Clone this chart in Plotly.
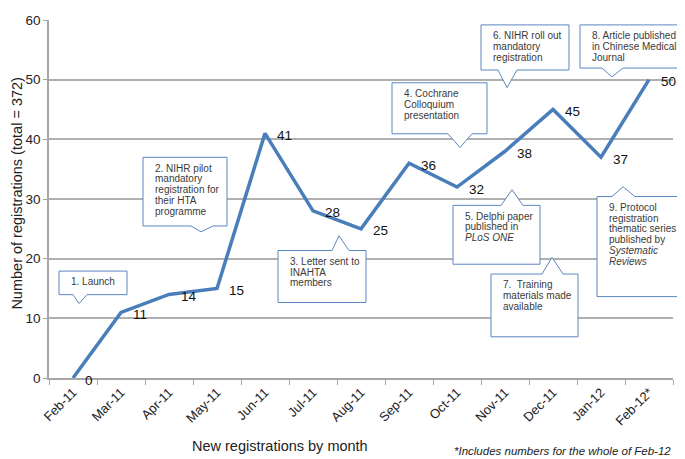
import plotly.graph_objects as go

months = ["Feb-11", "Mar-11", "Apr-11", "May-11", "Jun-11", "Jul-11", "Aug-11",
          "Sep-11", "Oct-11", "Nov-11", "Dec-11", "Jan-12", "Feb-12*"]
registrations = [0, 11, 14, 15, 41, 28, 25, 36, 32, 38, 45, 37, 50]

y_ticks = [0, 10, 20, 30, 40, 50, 60]

callout_texts = [
    ["1. Launch"],
    ["2. NIHR pilot", "mandatory", "registration for", "their HTA", "programme"],
    ["3. Letter sent to", "INAHTA", "members"],
    ["4. Cochrane", "Colloquium", "presentation"],
    ["5. Delphi paper", "published in", "<i>PLoS ONE</i>"],
    ["6. NIHR roll out", "mandatory", "registration"],
    ["7.\u00a0 Training", "materials made", "available"],
    ["8. Article published", "in Chinese Medical", "Journal"],
    ["9. Protocol", "registration", "thematic series", "published by",
     "<i>Systematic</i>", "<i>Reviews</i>"],
]

# The page body has an 8px margin, so the figure starts at (8, 8) in the window.
OFF = 8
W, H = 685, 459
PLOT_L, PLOT_R, PLOT_T, PLOT_B = 49, 673, 13, 378   # window pixels of plot area
L = PLOT_L - OFF
R = W - (PLOT_R - OFF)
T = PLOT_T - OFF
B = H - (PLOT_B - OFF)
PW, PH = PLOT_R - PLOT_L, PLOT_B - PLOT_T

def px(x):
    return (x - PLOT_L) / PW

def py(y):
    return (PLOT_B - y) / PH

# callout boxes in window pixels: (left, top, right, bottom, side, base0, tip_x, base1, tip_y)
callout_geom = [
    (59, 269, 127, 293, "bottom", 73, 79, 87, 302),
    (143, 153, 227, 223, "bottom", 191, 201, 213, 229),
    (278, 248, 366, 301, "top", 332, 339, 349, 233),
    (392, 77, 487, 129, "bottom", 448, 460, 472, 143),
    (453, 202, 540, 262, "top", 501, 512, 523, 186),
    (481, 18, 569, 64, "bottom", 498, 507, 517, 82),
    (491, 272, 578, 336, "top", 542, 552, 563, 255),
    (580, 18, 682, 62, "bottom", 602, 612, 623, 71),
    (597, 193, 684, 295, "top", 612, 623, 635, 183),
]

fig = go.Figure()
fig.add_trace(go.Scatter(
    x=months, y=registrations, mode="lines",
    line=dict(color="#4A7EBB", width=3.5),
    hoverinfo="x+y", showlegend=False,
))

annotations = []
for m, v in zip(months, registrations):
    annotations.append(dict(
        x=m, y=v, xref="x", yref="y", text=str(v), showarrow=False,
        xanchor="left", yanchor="middle", xshift=10, yshift=-2,
        font=dict(size=13.5, color="#111111"),
    ))

shapes = []
for (l, t, r, b, side, b0, tx, b1, ty), lines in zip(callout_geom, callout_texts):
    if side == "bottom":
        pts = [(l, t), (r, t), (r, b), (b1, b), (tx, ty), (b0, b), (l, b)]
    else:
        pts = [(l, t), (b0, t), (tx, ty), (b1, t), (r, t), (r, b), (l, b)]
    path = "M " + " L ".join(f"{px(a):.5f},{py(c):.5f}" for a, c in pts) + " Z"
    shapes.append(dict(type="path", xref="paper", yref="paper", path=path,
                       line=dict(color="#5B87C0", width=1), fillcolor="white",
                       layer="above"))
    for i, txt in enumerate(lines):
        annotations.append(dict(
            x=px(l + 10), y=py(t + 11 + 11 * i), xref="paper", yref="paper",
            text=txt, showarrow=False, xanchor="left", yanchor="middle",
            font=dict(size=10, color="#3a3a3a"),
        ))

annotations.append(dict(
    x=px(280), y=py(447), xref="paper", yref="paper",
    text="New registrations by month", showarrow=False,
    xanchor="center", yanchor="middle", font=dict(size=14.5, color="#222222"),
))
annotations.append(dict(
    x=px(673), y=py(452), xref="paper", yref="paper",
    text="<i>*Includes numbers for the whole of Feb-12</i>", showarrow=False,
    xanchor="right", yanchor="middle", font=dict(size=11.5, color="#222222"),
))
annotations.append(dict(
    x=px(17), y=py(190), xref="paper", yref="paper",
    text="Number of registrations (total = 372)", showarrow=False, textangle=-90,
    xanchor="center", yanchor="middle", font=dict(size=14.5, color="#222222"),
))

fig.update_layout(
    width=W, height=H,
    margin=dict(l=L, r=R, t=T, b=B, pad=0),
    paper_bgcolor="white", plot_bgcolor="white",
    font=dict(family="Liberation Sans, Arial, sans-serif", color="#222222"),
    xaxis=dict(
        type="category", range=[-0.5, 12.5], tickson="boundaries",
        showgrid=False, showline=True, linecolor="#A6A6A6", linewidth=1.5,
        ticks="outside", ticklen=5, tickcolor="#A6A6A6", tickwidth=1.2,
        tickangle=-45, tickfont=dict(size=13, color="#222222"),
    ),
    yaxis=dict(
        range=[0, 60], tickvals=y_ticks, showgrid=True, gridcolor="#B0B0B0",
        gridwidth=1.5, zeroline=False, showline=True, linecolor="#A6A6A6",
        linewidth=1.5, ticks="outside", ticklen=4, tickcolor="#A6A6A6",
        tickfont=dict(size=13.5, color="#222222"), ticklabeloverflow="allow",
    ),
    shapes=shapes,
    annotations=annotations,
)

fig.write_html("out.html")
